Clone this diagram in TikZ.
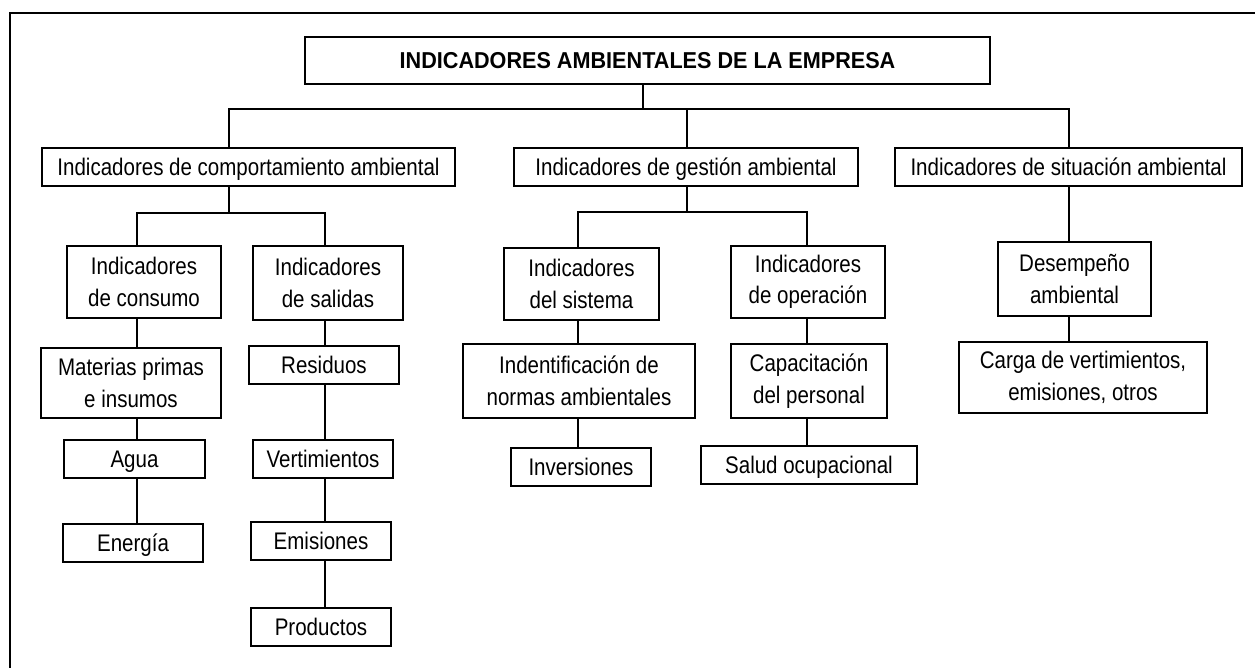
\documentclass[tikz,border=0pt]{standalone}
\usepackage{fontspec}
\setmainfont{Liberation Sans}
\newfontfamily\estrecha[FakeStretch=0.855]{Liberation Sans}
\newfontfamily\estrechab[FakeStretch=0.94]{Liberation Sans}

\tikzset{
  caja/.style={draw, line width=1.8pt, inner sep=0pt, align=center,
    font=\estrecha\fontsize{24}{31.5}\selectfont},
  simple/.style={caja, text height=17.2pt, text depth=0pt},
  linea/.style={line width=1.8pt}
}

\begin{document}
\begin{tikzpicture}[x=1pt,y=-1pt]
			\useasboundingbox (0,0) rectangle (1255,668);
			\draw[line width=2.4pt] (10,668) -- (10,13) -- (1255,13);
			% titulo y primer nivel
			\node[simple, minimum width=685, minimum height=47, font=\estrechab\fontsize{23}{26}\selectfont\bfseries, text height=16.5pt] (titulo) at (647.5,60.5) {INDICADORES AMBIENTALES DE LA EMPRESA};
			\node[simple, minimum width=413, minimum height=38] (comp) at (248.5,167) {Indicadores de comportamiento ambiental};
			\node[simple, minimum width=344, minimum height=38] (gest) at (686,167) {Indicadores de gesti\'on ambiental};
			\node[simple, minimum width=347, minimum height=38] (sit) at (1068.5,167) {Indicadores de situaci\'on ambiental};
			% comportamiento
			\node[caja, minimum width=154, minimum height=72] (cons) at (144,282) {Indicadores\\de consumo};
			\node[caja, minimum width=150, minimum height=74] (sal) at (328,283) {Indicadores\\de salidas};
			\node[caja, minimum width=180, minimum height=70] (mat) at (131,383) {Materias primas\\e insumos};
			\node[simple, minimum width=141, minimum height=38] (agua) at (134.5,459) {Agua};
			\node[simple, minimum width=140, minimum height=38] (ener) at (133,543) {Energ\'ia};
			\node[simple, minimum width=150, minimum height=38] (res) at (324,365) {Residuos};
			\node[simple, minimum width=140, minimum height=38] (vert) at (323,459) {Vertimientos};
			\node[simple, minimum width=140, minimum height=38] (emi) at (321,541) {Emisiones};
			\node[simple, minimum width=140, minimum height=38] (prod) at (321,627) {Productos};
			% gestion
			\node[caja, minimum width=155, minimum height=72] (sis) at (581.5,284) {Indicadores\\del sistema};
			\node[caja, minimum width=154, minimum height=72] (oper) at (808,282) {Indicadores\\de operaci\'on};
			\node[caja, minimum width=232, minimum height=74] (iden) at (579,381) {Indentificaci\'on de\\normas ambientales};
			\node[caja, minimum width=156, minimum height=74] (capa) at (809,381) {Capacitaci\'on\\del personal};
			\node[simple, minimum width=140, minimum height=38] (inv) at (581,467) {Inversiones};
			\node[simple, minimum width=216, minimum height=38] (salud) at (809,465) {Salud ocupacional};
			% situacion
			\node[caja, minimum width=153, minimum height=74] (des) at (1074.5,279) {Desempe\~no\\ambiental};
			\node[caja, minimum width=248, minimum height=71] (carga) at (1083,377.5) {Carga de vertimientos,\\emisiones, otros};
			% puntos de union
			\coordinate (jt) at (643,109);
			\coordinate (jc) at (229,109);
			\coordinate (jg) at (687,109);
			\coordinate (js) at (1069,109);
			\coordinate (ja) at (137,213);
			\coordinate (jb) at (325,213);
			\coordinate (jd) at (578,212);
			\coordinate (je) at (807,212);
			% conectores
			\draw[linea] (titulo.south -| jt) -- (jt);
			\draw[linea] (comp.north -| jc) -- (jc) -- (js) -- (sit.north -| js);
			\draw[linea] (gest.north -| jg) -- (jg);
			\draw[linea] (comp.south -| jc) -- (jc |- ja);
			\draw[linea] (cons.north -| ja) -- (ja) -- (jb) -- (sal.north -| jb);
			\draw[linea] (gest.south -| jg) -- (jg |- jd);
			\draw[linea] (sis.north -| jd) -- (jd) -- (je) -- (oper.north -| je);
			\draw[linea] (sit.south -| js) -- (des.north -| js);
			\draw[linea] (des.south -| js) -- (carga.north -| js);
			\foreach \a/\b in {cons/mat, mat/agua, agua/ener}
				\draw[linea] (\a.south -| ja) -- (\b.north -| ja);
			\foreach \a/\b in {sal/res, res/vert, vert/emi, emi/prod}
				\draw[linea] (\a.south -| jb) -- (\b.north -| jb);
			\foreach \a/\b in {sis/iden, iden/inv}
				\draw[linea] (\a.south -| jd) -- (\b.north -| jd);
			\foreach \a/\b in {oper/capa, capa/salud}
				\draw[linea] (\a.south -| je) -- (\b.north -| je);
\end{tikzpicture}
\end{document}
